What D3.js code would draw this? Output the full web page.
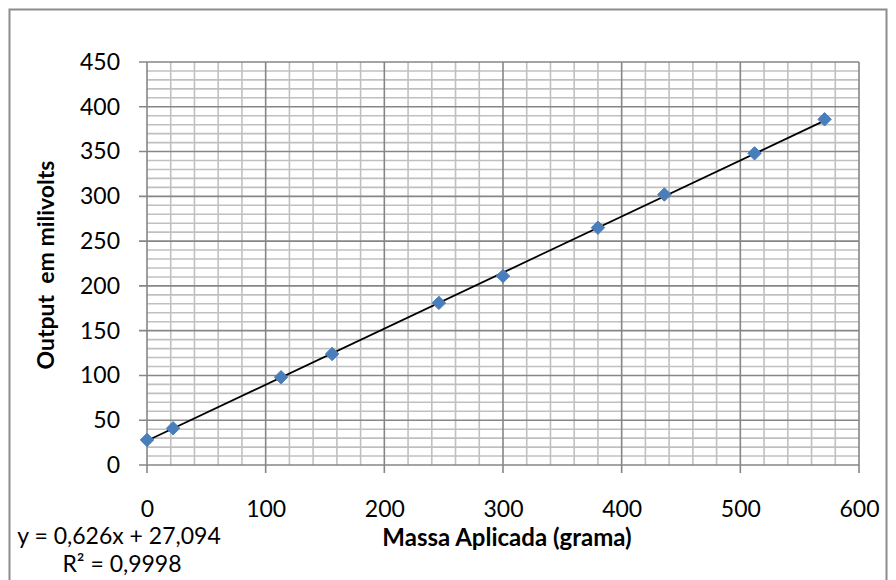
<!DOCTYPE html>
<html>
<head>
<meta charset="utf-8">
<script src="https://cdn.jsdelivr.net/npm/d3@7"></script>
<style>
  body { margin: 0; background: #fff; }
  text { font-family: Lato, "Open Sans", sans-serif; fill: #000; }
</style>
</head>
<body>
<div id="chart"></div>
<script>
// data
let massa = [0, 22, 113, 156, 246, 300, 380, 436, 512, 571]
let output = [28, 41, 98, 124, 181, 211, 265, 302, 348, 386]
let xTicks = [0, 100, 200, 300, 400, 500, 600]
let yTicks = [0, 50, 100, 150, 200, 250, 300, 350, 400, 450]
let slope = 0.626
let intercept = 27.094
let eqLabel = 'y = 0,626x + 27,094'
let r2Label = 'R² = 0,9998'

let svgWidth = 896
let svgHeight = 580

let margin = { left: 147, right: 37, top: 62, bottom: 115 }
let width = svgWidth - margin.left - margin.right
let height = svgHeight - margin.top - margin.bottom

let root = d3.select('#chart')
    .append('svg')
    .attr('width', svgWidth)
    .attr('height', svgHeight)

// chart border
root.append('rect')
    .attr('x', 9.5).attr('y', 9.5)
    .attr('width', 877).attr('height', 600)
    .attr('fill', 'none')
    .attr('stroke', '#8c8c8c')
    .attr('stroke-width', 2)

let svg = root.append('g')
    .attr('transform', `translate(${margin.left},${margin.top})`)

let xScale = d3.scaleLinear().domain([0, 600]).range([0, width])
let yScale = d3.scaleLinear().domain([0, 450]).range([height, 0])

// minor grid
let minorX = d3.range(0, 601, 20).filter(v => v % 100 !== 0)
let minorY = d3.range(0, 451, 10).filter(v => v % 50 !== 0)

svg.append('g').selectAll('line')
    .data(minorY)
    .join('line')
    .attr('x1', 0).attr('x2', width)
    .attr('y1', d => yScale(d)).attr('y2', d => yScale(d))
    .attr('stroke', '#c0c0c0').attr('stroke-width', 1.6)

svg.append('g').selectAll('line')
    .data(minorX)
    .join('line')
    .attr('y1', 0).attr('y2', height)
    .attr('x1', d => xScale(d)).attr('x2', d => xScale(d))
    .attr('stroke', '#c0c0c0').attr('stroke-width', 1.6)

// major grid
svg.append('g').selectAll('line')
    .data(yTicks)
    .join('line')
    .attr('x1', -8).attr('x2', width)
    .attr('y1', d => yScale(d)).attr('y2', d => yScale(d))
    .attr('stroke', '#868686').attr('stroke-width', 1.6)

svg.append('g').selectAll('line')
    .data(xTicks)
    .join('line')
    .attr('y1', 0).attr('y2', height + 8)
    .attr('x1', d => xScale(d)).attr('x2', d => xScale(d))
    .attr('stroke', '#868686').attr('stroke-width', 1.6)

// axes (labels only, lines drawn above)
let xAxis = d3.axisBottom(xScale).tickValues(xTicks).tickSize(0).tickPadding(36)
let yAxis = d3.axisLeft(yScale).tickValues(yTicks).tickSize(0).tickPadding(27)

svg.append('g')
    .attr('transform', `translate(0,${height})`)
    .call(xAxis)
    .call(g => g.select('.domain').remove())
    .selectAll('text')
    .style('font-size', '23px')
    .style('font-family', 'Lato, sans-serif')

svg.append('g')
    .call(yAxis)
    .call(g => g.select('.domain').remove())
    .selectAll('text')
    .style('font-size', '23px')
    .style('font-family', 'Lato, sans-serif')

// trendline
let xMax = d3.max(massa)
svg.append('line')
    .attr('x1', xScale(0)).attr('y1', yScale(intercept))
    .attr('x2', xScale(xMax)).attr('y2', yScale(slope * xMax + intercept))
    .attr('stroke', '#000').attr('stroke-width', 1.7)

// points
let points = massa.map((m, i) => ({ x: m, y: output[i] }))
svg.append('g').selectAll('path')
    .data(points)
    .join('path')
    .attr('d', d3.symbol().type(d3.symbolDiamond2).size(115))
    .attr('transform', d => `translate(${xScale(d.x)},${yScale(d.y)})`)
    .attr('fill', '#4a7ebb')
    .attr('stroke', '#4a7ebb')
    .attr('stroke-width', 1)

// titles
root.append('text')
    .attr('x', 507).attr('y', 546)
    .attr('text-anchor', 'middle')
    .style('font-size', '24px').style('font-weight', 'bold')
    .text('Massa Aplicada (grama)')

root.append('text')
    .attr('transform', 'translate(54,265) rotate(-90)')
    .attr('text-anchor', 'middle')
    .style('font-size', '23px').style('font-weight', 'bold')
    .attr('xml:space', 'preserve')
    .text('Output  em milivolts')

// regression labels
root.append('text')
    .attr('x', 119).attr('y', 544)
    .attr('text-anchor', 'middle')
    .style('font-size', '23px')
    .text(eqLabel)

root.append('text')
    .attr('x', 122).attr('y', 572)
    .attr('text-anchor', 'middle')
    .style('font-size', '23px')
    .text(r2Label)
</script>
</body>
</html>
